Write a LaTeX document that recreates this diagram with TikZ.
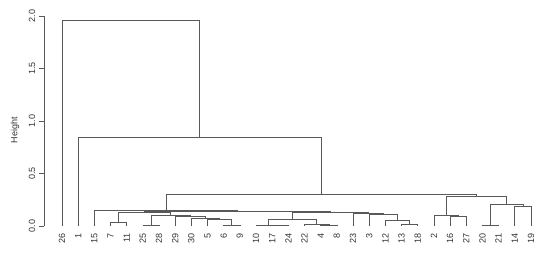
\documentclass[tikz,border=0pt]{standalone}
\usepackage{fontspec}
\setmainfont{Liberation Sans}
\usepackage{tikz}
\usetikzlibrary{calc}

\tikzset{
  branch/.style={black!65, line width=0.6pt},
  axisline/.style={black!65, line width=0.6pt},
  leaflab/.style={rotate=90, anchor=east, inner sep=0pt, text=black!80, font=\fontsize{9}{10}\selectfont},
  ticklab/.style={rotate=90, anchor=south, inner sep=0pt, text=black!80, font=\fontsize{9}{10}\selectfont},
}

% join two clusters (left, right) at a given height
\newcommand{\dmerge}[4]{%
  \coordinate (mid) at ($(#2)!0.5!(#3)$);
  \coordinate (#1) at (mid |- 0,#4);
  \draw[branch] (#2) |- (#1) -| (#3);
}

\begin{document}
\begin{tikzpicture}[x=1pt, y=105pt]
  \useasboundingbox (0,-0.2762) rectangle (550,2.1524);
  % Height axis
  \draw[axisline] (44,0) -- (44,2);
  \foreach \tk in {0.0,0.5,1.0,1.5,2.0} {
    \draw[axisline] (39,\tk) -- (44,\tk);
    \node[ticklab] at (35.5,\tk) {\tk};
  }
  \node[rotate=90, text=black!80, font=\fontsize{9}{10}\selectfont] (ylab) at (15,0.91) {Height};
  % Leaves
  \foreach \lab [count=\i from 0] in {26,1,15,7,11,25,28,29,30,5,6,9,10,17,24,22,4,8,23,3,12,13,18,2,16,27,20,21,14,19} {
    \coordinate (l\lab) at ({62+16.17*\i},0);
    \node[leaflab] (t\lab) at ({62+16.17*\i},-0.066) {\lab};
  }
  % Left cluster
  \dmerge{m1}{l6}{l9}{0.005}
  \dmerge{m2}{l5}{m1}{0.063}
  \dmerge{m3}{l30}{m2}{0.075}
  \dmerge{m4}{l29}{m3}{0.095}
  \dmerge{m5}{l25}{l28}{0.01}
  \dmerge{m6}{m5}{m4}{0.105}
  \dmerge{m7}{l7}{l11}{0.035}
  \dmerge{m8}{m7}{m6}{0.13}
  % Middle cluster
  \dmerge{m9}{l17}{l24}{0.005}
  \dmerge{m10}{l10}{m9}{0.01}
  \dmerge{m11}{l4}{l8}{0.005}
  \dmerge{m12}{l22}{m11}{0.015}
  \dmerge{m13}{m10}{m12}{0.06}
  \dmerge{m14}{l13}{l18}{0.015}
  \dmerge{m15}{l12}{m14}{0.05}
  \dmerge{m16}{l3}{m15}{0.11}
  \dmerge{m17}{l23}{m16}{0.125}
  \dmerge{m18}{m13}{m17}{0.13}
  \dmerge{m19}{m8}{m18}{0.14}
  \dmerge{m20}{l15}{m19}{0.152}
  % Right cluster
  \dmerge{m21}{l16}{l27}{0.09}
  \dmerge{m22}{l2}{m21}{0.10}
  \dmerge{m23}{l20}{l21}{0.01}
  \dmerge{m24}{l14}{l19}{0.19}
  \dmerge{m25}{m23}{m24}{0.21}
  \dmerge{m26}{m22}{m25}{0.286}
  % Top joins
  \dmerge{m27}{m20}{m26}{0.302}
  \dmerge{m28}{l1}{m27}{0.848}
  \dmerge{m29}{l26}{m28}{1.962}
\end{tikzpicture}
\end{document}
